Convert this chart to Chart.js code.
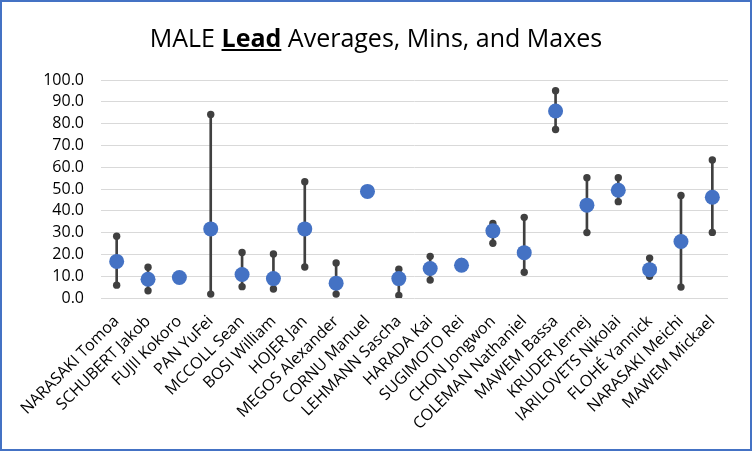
<!DOCTYPE html>
<html>
<head>
<meta charset="utf-8">
<script src="https://cdn.jsdelivr.net/npm/chart.js@4"></script>
<style>
  body { margin: 0; background: #fff; }
  #wrap { position: relative; width: 752px; height: 451px; }
  #chart { position: absolute; left: 0; top: 0; }
  #frame { position: absolute; left: 0; top: 0; width: 748px; height: 447px; border: 2px solid #4472C4; pointer-events: none; }
  #title { position: absolute; left: 0; top: 21px; width: 752px; text-align: center; font-family: 'Open Sans', sans-serif; font-size: 25px; line-height: 32px; color: #000; }
  #title b { text-decoration: underline; }
</style>
</head>
<body>
<div id="wrap">
  <canvas id="chart" width="752" height="451"></canvas>
  <div id="title">MALE <b>Lead</b> Averages, Mins, and Maxes</div>
  <div id="frame"></div>
</div>
<script>
// --- dados ---
const athletes = ['NARASAKI Tomoa', 'SCHUBERT Jakob', 'FUJII Kokoro', 'PAN YuFei', 'MCCOLL Sean',
  'BOSI William', 'HOJER Jan', 'MEGOS Alexander', 'CORNU Manuel', 'LEHMANN Sascha',
  'HARADA Kai', 'SUGIMOTO Rei', 'CHON Jongwon', 'COLEMAN Nathaniel', 'MAWEM Bassa',
  'KRUDER Jernej', 'IARILOVETS Nikolai', 'FLOHÉ Yannick', 'NARASAKI Meichi', 'MAWEM Mickael'];
const averages = [16.8, 8.6, 9.4, 31.7, 10.8, 8.9, 31.7, 6.8, 48.9, 8.9,
  13.5, 15.0, 30.8, 20.8, 85.8, 42.6, 49.4, 13.0, 25.9, 46.2];
const mins = [5.9, 3.3, 9.4, 1.8, 5.2, 4.1, 14.2, 1.8, 48.9, 1.2,
  8.2, 14.2, 25.1, 11.8, 77.3, 30.0, 44.2, 10.0, 5.0, 30.1];
const maxes = [28.3, 14.1, 9.4, 84.2, 20.9, 20.2, 53.3, 16.1, 48.9, 13.2,
  19.1, 16.8, 34.2, 37.0, 95.1, 55.2, 55.2, 18.3, 47.0, 63.3];
const yTicks = [0, 10, 20, 30, 40, 50, 60, 70, 80, 90, 100];

const FONT = "'Open Sans', sans-serif";
const BLUE = '#4472C4';
const DARK = '#404040';

const ctx = document.getElementById('chart').getContext('2d');
new Chart(ctx, {
  type: 'bar',
  data: {
    labels: athletes,
    datasets: [
      { type: 'line', label: 'Average', data: averages, showLine: false,
        pointRadius: 7.5, pointBackgroundColor: BLUE, pointBorderWidth: 0, order: 0 },
      { type: 'line', label: 'Max', data: maxes, showLine: false,
        pointRadius: 3.7, pointBackgroundColor: DARK, pointBorderWidth: 0, order: 1 },
      { type: 'line', label: 'Min', data: mins, showLine: false,
        pointRadius: 3.7, pointBackgroundColor: DARK, pointBorderWidth: 0, order: 1 },
      { type: 'bar', label: 'Range', data: mins.map((m, i) => [m, maxes[i]]),
        backgroundColor: DARK, barThickness: 2, order: 2 }
    ]
  },
  options: {
    responsive: false,
    animation: false,
    layout: { padding: { top: 80, left: 0, right: 24, bottom: 0 } },
    plugins: { legend: { display: false }, tooltip: { enabled: false }, title: { display: false } },
    scales: {
      x: {
        afterFit: s => { s.height = 153; },
        grid: { display: false },
        border: { display: false },
        ticks: { color: '#000', font: { family: FONT, size: 16 }, minRotation: 45, maxRotation: 45, autoSkip: false, padding: 6 }
      },
      y: {
        min: 0, max: 100,
        afterFit: s => { s.width = 101; },
        afterBuildTicks: s => { s.ticks = yTicks.map(v => ({ value: v })); },
        grid: { color: '#D9D9D9', lineWidth: 1, drawTicks: false },
        border: { display: false },
        ticks: { color: '#000', font: { family: FONT, size: 16 }, padding: 17, autoSkip: false, callback: v => v.toFixed(1) }
      }
    }
  }
});
</script>
</body>
</html>
